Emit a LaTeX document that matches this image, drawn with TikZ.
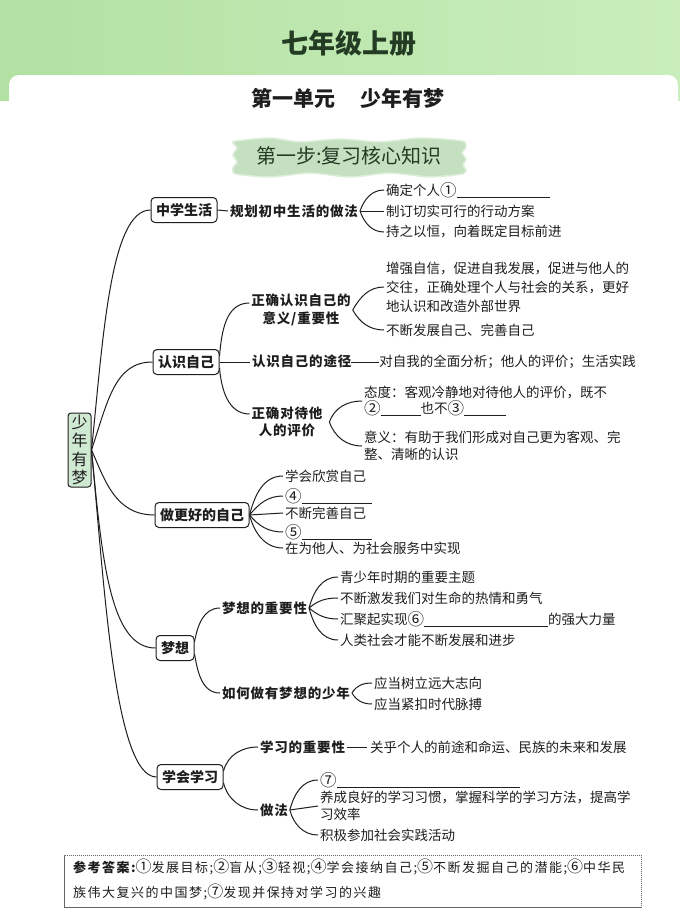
\documentclass[tikz,border=0pt]{standalone}
\usepackage{fontspec}
\setmainfont{Noto Sans CJK SC}
\newfontfamily\spc[LetterSpace=6]{Noto Sans CJK SC}
\newfontfamily\ansf[LetterSpace=11.5]{Noto Sans CJK SC}
\usetikzlibrary{calc}
\definecolor{bandL}{HTML}{B2E1A3}
\definecolor{bandR}{HTML}{C9EEBC}
\definecolor{titlec}{HTML}{243B24}
\definecolor{bannerc}{HTML}{C4E0C0}
\definecolor{banneredge}{HTML}{DDEEDA}
\definecolor{rootc}{HTML}{D0E9D3}
\definecolor{inkc}{HTML}{1E1E1E}
\tikzset{
  ln/.style={line width=1pt, draw=inkc},
  lvl/.style={draw=inkc, line width=1pt, rounded corners=4pt, fill=white, inner xsep=5pt, inner ysep=0pt, minimum height=25pt, font=\fontsize{14}{16}\selectfont\bfseries, text=inkc},
  it/.style={anchor=west, inner sep=0pt, outer sep=2pt, font=\fontsize{13.5}{19}\selectfont, align=left, text=inkc},
  it17/.style={it, font=\fontsize{13.5}{16.5}\selectfont},
  lb/.style={inner sep=0pt, outer sep=2pt, font=\fontsize{13.5}{17.5}\selectfont\spc\bfseries, align=center, text=inkc},
}
\newcommand{\blank}[1]{\rule[-2pt]{#1}{0.6pt}}
\newcommand{\cir}[1]{{\fontsize{16.5}{16}\selectfont\raisebox{-0.6pt}{#1}}}
\newcommand{\cira}[1]{{\fontsize{16}{16}\selectfont\raisebox{-0.6pt}{#1}}}
\begin{document}
\begin{tikzpicture}[x=1pt,y=-1pt]
\useasboundingbox (0,0) rectangle (680,913);
\fill[white] (0,0) rectangle (680,913);
\shade[left color=bandL, right color=bandR] (0,0) rectangle (680,100);
\fill[white, rounded corners=10pt] (9,75) rectangle (678,940);
% titles
\node[font=\fontsize{27}{30}\selectfont\bfseries, text=titlec] (t0) at (349,43) {七年级上册};
\node[font=\fontsize{21}{24}\selectfont\bfseries, text=inkc] (t1) at (348,98) {第一单元\hspace{1.2em}少年有梦};
\fill[bannerc, draw=banneredge, line width=1.5pt] plot[smooth cycle, tension=0.4] coordinates {
 (236,141) (270,138) (300,142) (340,139) (380,142) (420,138) (462,141)
 (466,147) (462,153) (466,159) (463,165) (466,170)
 (462,174) (430,177) (390,173) (350,177) (310,173) (270,177) (236,174)
 (233,168) (237,162) (233,155) (237,148) (233,143)};
\node[font=\fontsize{20}{22}\selectfont, text=titlec] (t2) at (349,156) {第一步:复习核心知识};

% root
\node[draw=inkc, line width=1pt, fill=rootc, rounded corners=3pt, minimum width=23pt, minimum height=74pt, inner sep=0pt, align=center, font=\fontsize{16}{18.5}\selectfont, text=inkc] (root) at (79.5,450) {少\\年\\有\\梦};

% level 1
\node[lvl] (zx) at (184,210) {中学生活};
\node[lvl] (rs) at (186,362) {认识自己};
\node[lvl] (zh) at (202,515) {做更好的自己};
\node[lvl] (mx) at (175,648) {梦想};
\node[lvl] (xx) at (190,777) {学会学习};

\draw[ln] (root.east) .. controls (103,340) and (110,210) .. (zx.west);
\draw[ln] (root.east) .. controls (108,400) and (115,362) .. (rs.west);
\draw[ln] (root.east) .. controls (105,480) and (115,515) .. (zh.west);
\draw[ln] (root.east) .. controls (102,560) and (110,648) .. (mx.west);
\draw[ln] (root.east) .. controls (104,580) and (114,777) .. (xx.west);

% 中学生活
\node[lb, anchor=west] (gh) at (228,211) {规划初中生活的做法};
\node[it] (a1) at (384,190) {确定个人\cir{①}\blank{93pt}};
\node[it] (a2) at (384,211) {制订切实可行的行动方案};
\node[it] (a3) at (384,232) {持之以恒，向着既定目标前进};
\draw[ln] (zx.east) -- (gh.west);
\draw[ln] (gh.east) to[out=70,in=180] (a1.west);
\draw[ln] (gh.east) -- (a2.west);
\draw[ln] (gh.east) to[out=-70,in=180] (a3.west);

% 认识自己
\node[lb] (r1) at (301,310) {正确认识自己的\\意义/重要性};
\node[it] (b1) at (384,287) {增强自信，促进自我发展，促进与他人的\\交往，正确处理个人与社会的关系，更好\\地认识和改造外部世界};
\node[it] (b2) at (384,330) {不断发展自己、完善自己};
\node[it] (r2) at (250,362) {{\spc\bfseries 认识自己的途径}\rule[4.5pt]{28pt}{0.7pt}对自我的全面分析；他人的评价；生活实践};
\node[lb] (r3) at (287,422) {正确对待他\\人的评价};
\node[it17] (c1) at (362,401) {态度：客观冷静地对待他人的评价，既不\\\cir{②}\blank{40pt}也不\cir{③}\blank{42pt}};
\node[it17] (c2) at (362,446) {意义：有助于我们形成对自己更为客观、完\\整、清晰的认识};
\draw[ln] ([yshift=6pt]rs.east) to[out=85,in=180] ([yshift=7pt]r1.west);
\draw[ln] (rs.east) -- (r2.west);
\draw[ln] ([yshift=-6pt]rs.east) to[out=-85,in=180] ([yshift=8pt]r3.west);
\draw[ln] (r1.east) to[out=60,in=180] (b1.west);
\draw[ln] (r1.east) to[out=-60,in=180] (b2.west);
\coordinate (r3f) at ([xshift=5pt]r3.east);
\draw[ln] (r3f) to[out=70,in=180] (c1.west);
\draw[ln] (r3f) to[out=-70,in=180] (c2.west);

% 做更好的自己
\node[it] (d1) at (283,476) {学会欣赏自己};
\node[it] (d2) at (283,496) {\cir{④}\blank{70pt}};
\node[it] (d3) at (283,513) {不断完善自己};
\node[it] (d4) at (283,532) {\cir{⑤}\blank{70pt}};
\node[it] (d5) at (283,548) {在为他人、为社会服务中实现};
\draw[ln] (zh.east) to[out=75,in=180] (d1.west);
\draw[ln] (zh.east) to[out=50,in=180] (d2.west);
\draw[ln] (zh.east) -- (d3.west);
\draw[ln] (zh.east) to[out=-50,in=180] (d4.west);
\draw[ln] (zh.east) to[out=-75,in=180] (d5.west);

% 梦想
\node[lb, anchor=west] (m1) at (220,608) {梦想的重要性};
\node[lb, anchor=west] (m2) at (220,693) {如何做有梦想的少年};
\node[it] (e1) at (338,577) {青少年时期的重要主题};
\node[it] (e2) at (338,598) {不断激发我们对生命的热情和勇气};
\node[it] (e3) at (338,619) {汇聚起实现\cir{⑥}\blank{124pt}的强大力量};
\node[it] (e4) at (338,640) {人类社会才能不断发展和进步};
\node[it] (g1) at (372,683) {应当树立远大志向};
\node[it] (g2) at (372,704) {应当紧扣时代脉搏};
\draw[ln] ([yshift=6pt]mx.east) to[out=80,in=180] (m1.west);
\draw[ln] ([yshift=-6pt]mx.east) to[out=-80,in=180] (m2.west);
\draw[ln] (m1.east) to[out=75,in=180] (e1.west);
\draw[ln] (m1.east) to[out=40,in=180] (e2.west);
\draw[ln] (m1.east) to[out=-40,in=180] (e3.west);
\draw[ln] (m1.east) to[out=-75,in=180] (e4.west);
\draw[ln] (m2.east) to[out=60,in=180] (g1.west);
\draw[ln] (m2.east) to[out=-60,in=180] (g2.west);

% 学会学习
\node[it] (h1) at (258,747) {{\spc\bfseries 学习的重要性}\hspace{2pt}\rule[4.5pt]{20pt}{0.7pt}\hspace{3pt}关乎个人的前途和命运、民族的未来和发展};
\node[lb, anchor=west] (h2) at (258,810) {做法};
\node[it] (k1) at (318,780) {\cir{⑦}\blank{183pt}};
\node[it17] (k2) at (318,806) {养成良好的学习习惯，掌握科学的学习方法，提高学\\习效率};
\node[it] (k3) at (318,835) {积极参加社会实践活动};
\draw[ln] ([yshift=6pt]xx.east) to[out=75,in=180] (h1.west);
\draw[ln] ([yshift=-6pt]xx.east) to[out=-75,in=180] (h2.west);
\draw[ln] (h2.east) to[out=75,in=180] (k1.west);
\draw[ln] (h2.east) -- (k2.west);
\draw[ln] (h2.east) to[out=-75,in=180] (k3.west);

% answers
\node[draw=black!60, dash pattern=on 1.2pt off 0.8pt, line width=0.8pt, minimum width=577pt, minimum height=52pt, anchor=north west, inner sep=0pt] (ans) at (64,855) {};
\node[anchor=west, inner sep=0pt, font=\fontsize{13}{15}\selectfont\ansf, text=inkc] (ans1) at (73,867) {{\bfseries 参考答案:}\cira{①}发展目标;\cira{②}盲从;\cira{③}轻视;\cira{④}学会接纳自己;\cira{⑤}不断发掘自己的潜能;\cira{⑥}中华民};
\node[anchor=west, inner sep=0pt, font=\fontsize{13}{15}\selectfont\ansf, text=inkc] (ans2) at (73,892) {族伟大复兴的中国梦;\cira{⑦}发现并保持对学习的兴趣};
\end{tikzpicture}
\end{document}
